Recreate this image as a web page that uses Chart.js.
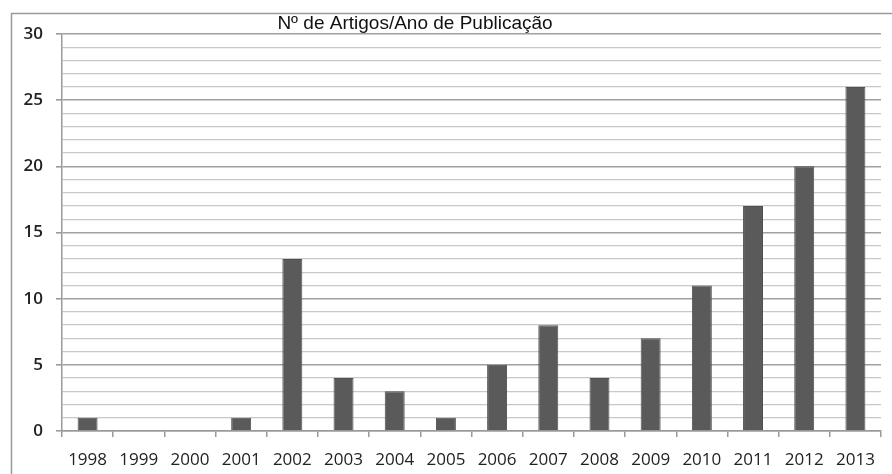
<!DOCTYPE html>
<html>
<head>
<meta charset="utf-8">
<script src="https://cdn.jsdelivr.net/npm/chart.js@4"></script>
<style>
  html, body { margin: 0; padding: 0; background: #fff; }
  #wrap { width: 892px; height: 474px; }
</style>
</head>
<body>
<div id="wrap"><canvas id="myChart" width="892" height="474"></canvas></div>
<script>
const titleText = 'Nº de Artigos/Ano de Publicação'
const years = ['1998', '1999', '2000', '2001', '2002', '2003', '2004', '2005',
  '2006', '2007', '2008', '2009', '2010', '2011', '2012', '2013']
const articles = [1, 0, 0, 1, 13, 4, 3, 1, 5, 8, 4, 7, 11, 17, 20, 26]
const yMax = 30

// outer frame + title, drawn on the canvas
const frame = {
  id: 'frame',
  beforeDraw(chart) {
    const c = chart.ctx
    c.save()
    c.strokeStyle = '#9a9a9a'
    c.lineWidth = 1.5
    c.beginPath()
    c.moveTo(11.5, 480)
    c.lineTo(11.5, 13.5)
    c.lineTo(900, 13.5)
    c.stroke()
    c.restore()
  },
  afterDraw(chart) {
    const c = chart.ctx
    c.save()
    c.fillStyle = '#111'
    c.font = '19px "Liberation Sans", Arial, sans-serif'
    c.textAlign = 'center'
    c.textBaseline = 'middle'
    c.fillText(titleText, 415, 24)
    c.restore()
  }
}

const ctx = document.getElementById('myChart').getContext('2d')
const myChart = new Chart(ctx, {
  type: 'bar',
  data: {
    labels: years,
    datasets: [{
      label: titleText,
      data: articles,
      backgroundColor: '#5a5a5a',
      borderColor: '#505050',
      borderWidth: (c) => c.raw ? 1 : 0,
      barPercentage: 0.39,
      categoryPercentage: 1
    }]
  },
  options: {
    responsive: false,
    animation: false,
    layout: { padding: { left: 0, top: 34, right: 11, bottom: 0 } },
    plugins: { legend: { display: false }, tooltip: { enabled: false } },
    scales: {
      x: {
        offset: true,
        grid: { offset: true, drawOnChartArea: false, tickLength: 6, color: '#9a9a9a', lineWidth: 1.5 },
        border: { color: '#9a9a9a', width: 1.5 },
        ticks: { color: '#222', font: { family: 'Open Sans', size: 17 }, padding: 13, maxRotation: 0 },
        afterFit(axis) { axis.height = 43 }
      },
      y: {
        min: 0,
        max: yMax,
        grid: {
          color: (c) => c.tick.value % 5 === 0 ? '#a0a0a0' : '#c8c8c8',
          lineWidth: (c) => c.tick.value % 5 === 0 ? 1.6 : 1.3,
          tickColor: (c) => c.tick.value % 5 === 0 ? '#9a9a9a' : 'rgba(0,0,0,0)',
          tickLength: 6
        },
        border: { color: '#9a9a9a', width: 1.5 },
        ticks: {
          stepSize: 1,
          autoSkip: false,
          color: '#222',
          font: { family: 'Open Sans', size: 17, weight: '600' },
          padding: 13,
          callback: (v) => v % 5 === 0 ? v : ''
        },
        afterFit(axis) { axis.width = 62 }
      }
    }
  },
  plugins: [frame]
})
</script>
</body>
</html>
